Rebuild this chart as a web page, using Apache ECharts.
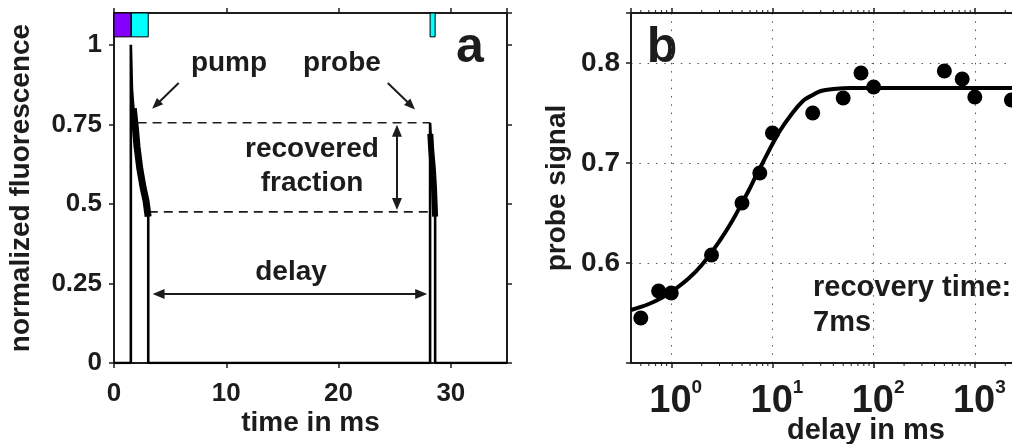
<!DOCTYPE html>
<html>
<head>
<meta charset="utf-8">
<script src="https://cdn.jsdelivr.net/npm/echarts@6/dist/echarts.min.js"></script>
<style>
  html, body { margin: 0; padding: 0; background: #fff; }
  #chart { width: 1012px; height: 444px; }
</style>
</head>
<body>
<div id="chart"></div>
<script>
// ---- panel a: pump/probe fluorescence trace (time in ms) ----
const traceTime  = [0, 1.5, 1.5, 1.6, 1.75, 1.9, 2.05, 2.3, 2.6, 2.85, 3.05, 3.05, 28.15, 28.15, 28.25, 28.4, 28.5, 28.6, 28.6, 35];
const traceLevel = [0, 0,   1.0, 0.86, 0.79, 0.74, 0.68, 0.61, 0.55, 0.51, 0.47, 0,    0,     0.755, 0.68,  0.61, 0.55, 0.48, 0,    0];

// noisy decay segments after each pulse
const pumpDecayTime   = [1.72, 1.9, 2.05, 2.3, 2.6, 2.85, 3.04];
const pumpDecayLevel  = [0.80, 0.74, 0.68, 0.61, 0.55, 0.51, 0.46];
const probeDecayTime  = [28.17, 28.25, 28.4, 28.5, 28.6];
const probeDecayLevel = [0.72, 0.67, 0.61, 0.55, 0.46];

// excitation pulses drawn above the trace
const pulseStart = [0, 1.55, 28.15];
const pulseEnd   = [1.5, 3.05, 28.6];
const pulseLow   = 1.025;
const pulseHigh  = 1.1;

// recovered fraction guides
const guideLevel = [0.755, 0.475];
const guideStart = [2.1, 3.1];
const guideEnd   = [28.15, 28.0];

// annotation arrows: [fromTime, fromLevel, toTime, toLevel]
const pumpArrow      = [5.76, 0.88, 3.75, 0.811];
const probeArrow     = [24.38, 0.88, 26.46, 0.809];
const recoveredArrow = [25.2, 0.73, 25.2, 0.50];
const delayArrow     = [3.97, 0.217, 27.36, 0.217];

// ---- panel b: probe signal vs. delay ----
const delayMs     = [0.5, 0.75, 1, 2.5, 5, 7.5, 10, 25, 50, 75, 100, 500, 750, 1000, 2300];
const probeSignal = [0.545, 0.572, 0.570, 0.608, 0.660, 0.690, 0.730, 0.750, 0.765, 0.790, 0.776, 0.792, 0.784, 0.766, 0.763];

// fitted recovery curve (recovery time 7 ms)
const fitDelay  = [0.4, 0.6, 0.8, 1, 1.5, 2, 3, 4, 5, 6, 7, 8, 10, 12, 15, 20, 25, 30, 40, 60, 100, 1000, 10000];
const fitSignal = [0.553, 0.559, 0.565, 0.571, 0.585, 0.598, 0.622, 0.642, 0.660, 0.675, 0.689, 0.700, 0.719, 0.733, 0.747, 0.762, 0.768, 0.772, 0.774, 0.775, 0.775, 0.775, 0.775];

// minor ticks of the log axis
const minorTicks = [0.5, 0.6, 0.7, 0.8, 0.9,
  2, 3, 4, 5, 6, 7, 8, 9,
  20, 30, 40, 50, 60, 70, 80, 90,
  200, 300, 400, 500, 600, 700, 800, 900,
  2000, 3000, 4000, 5000, 6000, 7000, 8000, 9000];

const FONT = "'Liberation Sans', Arial, Helvetica, sans-serif";
const INK = '#1c1c1c';
const PURPLE = '#8400ff';
const CYAN = '#00ffff';

const zip = (a, b) => a.map((v, i) => [v, b[i]]);
const boldText = (size) => ({ fontSize: size, fontWeight: 'bold', fontFamily: FONT, color: INK });

const axisLineStyle = { show: true, onZero: false, lineStyle: { color: INK, width: 2 } };
const tickStyle = { show: true, inside: false, length: 5, lineStyle: { color: INK, width: 1.5 } };

const arrowLine = (a, fromSym, toSym, size) => [
  { coord: [a[0], a[1]], symbol: fromSym, symbolSize: size },
  { coord: [a[2], a[3]], symbol: toSym, symbolSize: size }
];

const label = (text, x, y, size, align) => ({
  type: 'text', x: x, y: y,
  style: { text: text, fontSize: size, fontWeight: 'bold', fontFamily: FONT, fill: INK, align: align || 'center', verticalAlign: 'middle' }
});

const chart = echarts.init(document.getElementById('chart'), null, { renderer: 'canvas' });

const option = {
  animation: false,
  backgroundColor: '#fff',
  grid: [
    { left: 114, top: 13, width: 393, height: 350, outerBoundsMode: 'none', containLabel: false },
    { left: 631, top: 13, width: 445, height: 350, outerBoundsMode: 'none', containLabel: false }
  ],
  xAxis: [
    {
      gridIndex: 0, type: 'value', min: 0, max: 35, interval: 10,
      axisLine: axisLineStyle, axisTick: tickStyle,
      axisLabel: Object.assign(boldText(26), { margin: 18, showMaxLabel: false }),
      splitLine: { show: false },
      name: 'time in ms', nameLocation: 'middle', nameGap: 46, nameMoveOverlap: false,
      nameTextStyle: boldText(28)
    },
    {
      gridIndex: 0, type: 'value', position: 'top', min: 0, max: 35, interval: 10,
      axisLine: axisLineStyle, axisTick: tickStyle,
      axisLabel: { show: false }, splitLine: { show: false }
    },
    {
      gridIndex: 1, type: 'log', logBase: 10, min: 0.4, max: 10000,
      axisLine: axisLineStyle, axisTick: tickStyle,
      axisLabel: {
        margin: 15, showMinLabel: false, showMaxLabel: false,
        formatter: (v) => {
          const e = Math.round(Math.log10(v));
          if (Math.abs(v - Math.pow(10, e)) > 1e-6 * v) return '';
          return '{p|}{b|10}{s|' + e + '}';
        },
        rich: {
          p: { width: 9 },
          b: boldText(38),
          s: Object.assign(boldText(19), { padding: [0, 0, 28, 0] })
        }
      },
      splitLine: { show: true, lineStyle: { color: '#555', width: 1, type: [1.5, 6.8] } },
      name: 'delay in ms', nameLocation: 'middle', nameGap: 53, nameMoveOverlap: false,
      nameTextStyle: Object.assign(boldText(29), { padding: [0, 0, 0, 25] })
    },
    {
      gridIndex: 1, type: 'log', logBase: 10, min: 0.4, max: 10000, position: 'top',
      axisLine: axisLineStyle, axisTick: tickStyle,
      axisLabel: { show: false }, splitLine: { show: false }
    }
  ],
  yAxis: [
    {
      gridIndex: 0, type: 'value', min: 0, max: 1.1, interval: 0.25,
      axisLine: axisLineStyle, axisTick: tickStyle,
      axisLabel: Object.assign(boldText(26), { margin: 12, showMaxLabel: false }),
      splitLine: { show: false },
      name: 'normalized fluorescence', nameLocation: 'middle', nameGap: 79, nameMoveOverlap: false,
      nameTextStyle: boldText(28)
    },
    {
      gridIndex: 0, type: 'value', position: 'right', min: 0, max: 1.1, interval: 0.25,
      axisLine: axisLineStyle, axisTick: tickStyle,
      axisLabel: { show: false }, splitLine: { show: false }
    },
    {
      gridIndex: 1, type: 'value', min: 0.5, max: 0.85, interval: 0.1,
      axisLine: axisLineStyle, axisTick: tickStyle,
      axisLabel: Object.assign(boldText(28), {
        margin: 11,
        formatter: (v) => (v > 0.55 && v < 0.82) ? v.toFixed(1) : ''
      }),
      splitLine: { show: true, lineStyle: { color: '#555', width: 1, type: [1.5, 6.8] } },
      name: 'probe signal', nameLocation: 'middle', nameGap: 60, nameMoveOverlap: false,
      nameTextStyle: boldText(28)
    }
  ],
  series: [
    {
      name: 'trace', type: 'line', xAxisIndex: 0, yAxisIndex: 0,
      data: zip(traceTime, traceLevel), showSymbol: false, silent: true,
      lineStyle: { color: '#000', width: 2.6 }, z: 4
    },
    {
      name: 'pump decay', type: 'line', xAxisIndex: 0, yAxisIndex: 0,
      data: zip(pumpDecayTime, pumpDecayLevel), showSymbol: false, silent: true,
      lineStyle: { color: '#000', width: 7 }, z: 4
    },
    {
      name: 'probe decay', type: 'line', xAxisIndex: 0, yAxisIndex: 0,
      data: zip(probeDecayTime, probeDecayLevel), showSymbol: false, silent: true,
      lineStyle: { color: '#000', width: 6 }, z: 4
    },
    {
      name: 'recovered upper', type: 'line', xAxisIndex: 0, yAxisIndex: 0,
      data: [[guideStart[0], guideLevel[0]], [guideEnd[0], guideLevel[0]]],
      showSymbol: false, silent: true,
      lineStyle: { color: INK, width: 1.6, type: [9, 6] }, z: 3
    },
    {
      name: 'recovered lower', type: 'line', xAxisIndex: 0, yAxisIndex: 0,
      data: [[guideStart[1], guideLevel[1]], [guideEnd[1], guideLevel[1]]],
      showSymbol: false, silent: true,
      lineStyle: { color: INK, width: 1.6, type: [9, 6] }, z: 3
    },
    {
      name: 'annotations', type: 'line', xAxisIndex: 0, yAxisIndex: 0, data: [],
      markLine: {
        silent: true, animation: false,
        label: { show: false },
        lineStyle: { color: INK, width: 2, type: 'solid' },
        itemStyle: { color: INK },
        emphasis: { disabled: true },
        data: [
          arrowLine(pumpArrow, 'none', 'triangle', [9, 11]),
          arrowLine(probeArrow, 'none', 'triangle', [9, 11]),
          arrowLine(recoveredArrow, 'triangle', 'triangle', [10, 12]),
          arrowLine(delayArrow, 'triangle', 'triangle', [10, 12])
        ]
      },
      markArea: {
        silent: true,
        itemStyle: { borderColor: '#000', borderWidth: 1 },
        data: pulseStart.map((s, i) => [
          { coord: [s, pulseLow], itemStyle: { color: i === 0 ? PURPLE : CYAN, borderColor: '#000', borderWidth: 1 } },
          { coord: [pulseEnd[i], pulseHigh] }
        ])
      }
    },
    {
      name: 'minor ticks', type: 'custom', xAxisIndex: 2, yAxisIndex: 2,
      data: minorTicks.map((v) => [v, 0.5]), clip: false, silent: true,
      renderItem: (params, api) => {
        const v = api.value(0);
        const bottom = api.coord([v, 0.5]);
        const top = api.coord([v, 0.85]);
        const st = { stroke: INK, lineWidth: 1 };
        return {
          type: 'group',
          children: [
            { type: 'line', shape: { x1: bottom[0], y1: bottom[1], x2: bottom[0], y2: bottom[1] + 3 }, style: st },
            { type: 'line', shape: { x1: top[0], y1: top[1], x2: top[0], y2: top[1] - 3 }, style: st }
          ]
        };
      }
    },
    {
      name: 'fit', type: 'line', xAxisIndex: 2, yAxisIndex: 2,
      data: zip(fitDelay, fitSignal), showSymbol: false, smooth: 0.4, silent: true,
      lineStyle: { color: '#000', width: 4 }, z: 3
    },
    {
      name: 'probe signal', type: 'scatter', xAxisIndex: 2, yAxisIndex: 2,
      data: zip(delayMs, probeSignal), symbol: 'circle', symbolSize: 15, silent: true,
      itemStyle: { color: '#000', opacity: 1 }, z: 4
    }
  ],
  graphic: [
    label('pump', 229, 63, 28),
    label('probe', 342, 63, 28),
    label('a', 470, 48, 50),
    label('recovered', 312, 149, 28),
    label('fraction', 312, 183, 28),
    label('delay', 291, 272, 28),
    label('b', 662, 48, 50),
    label('recovery time:', 813, 288, 29, 'left'),
    label('7ms', 813, 323, 29, 'left')
  ]
};

chart.setOption(option);
</script>
</body>
</html>
